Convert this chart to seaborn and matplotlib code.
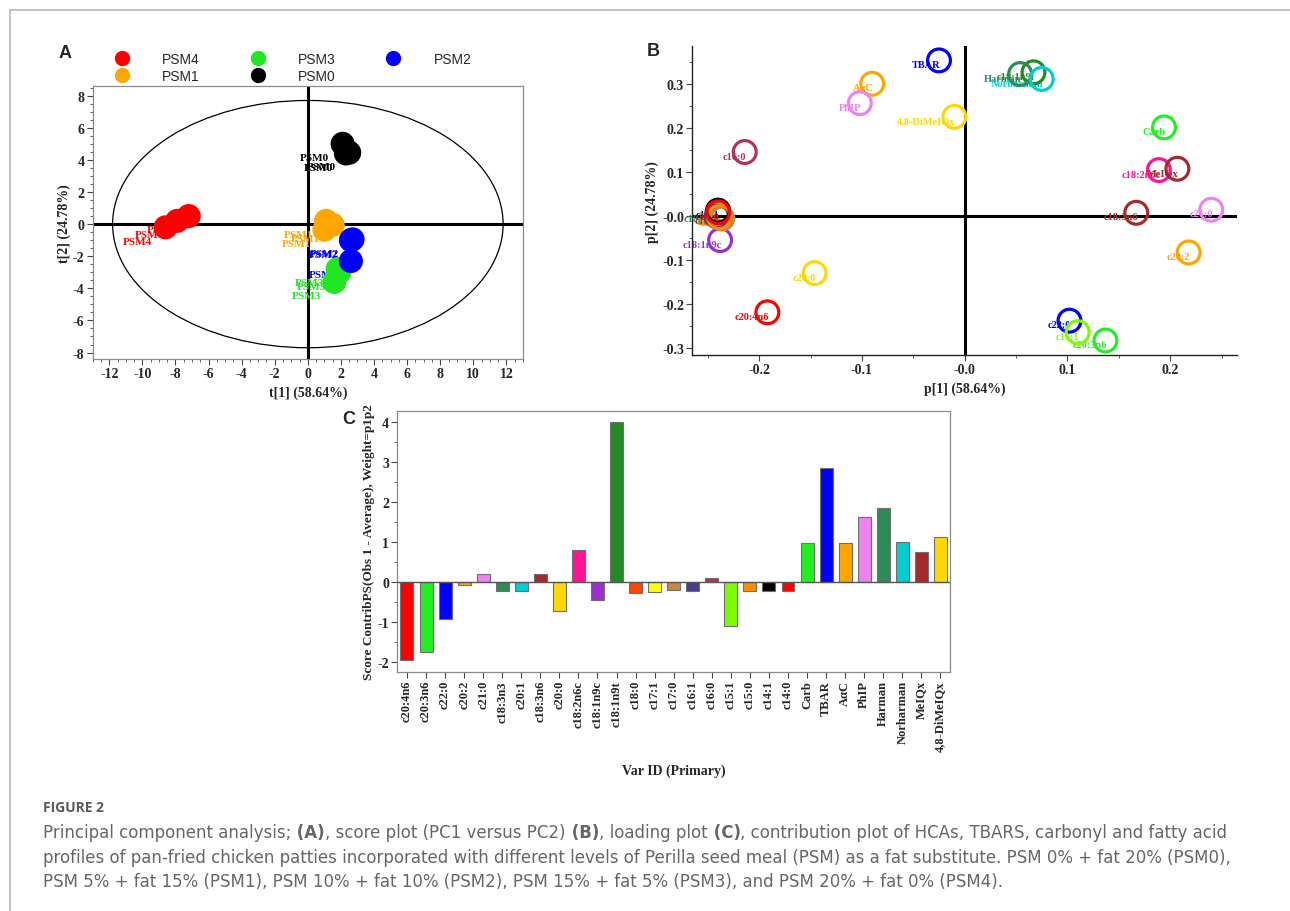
import numpy as np
import pandas as pd
import matplotlib
matplotlib.use("Agg")
import matplotlib.pyplot as plt
import seaborn as sns
from matplotlib.patches import Ellipse
from matplotlib.lines import Line2D
from matplotlib.ticker import AutoMinorLocator

# ---- data: score plot (A) ----
score_group = ["PSM4"] * 3 + ["PSM1"] * 3 + ["PSM3"] * 3 + ["PSM0"] * 3 + ["PSM2"] * 3
score_t1 = [-8.6, -7.9, -7.2, 1.1, 1.5, 1.0, 1.8, 1.9, 1.6, 2.1, 2.3, 2.5, 2.7, 2.6, 2.6]
score_t2 = [-0.2, 0.2, 0.5, 0.2, -0.05, -0.35, -2.8, -3.0, -3.6, 5.0, 4.4, 4.45, -0.95, -1.0, -2.3]
group_order = ["PSM4", "PSM1", "PSM3", "PSM0", "PSM2"]
group_colors = ["#ff0000", "#ffa500", "#22e622", "#000000", "#0000ff"]
ellipse_a = 11.8
ellipse_b = 7.7

# ---- data: loadings (B) and contributions (C) ----
var_names = ["c20:4n6", "c20:3n6", "c22:0", "c20:2", "c21:0", "c18:3n3", "c20:1", "c18:3n6",
             "c20:0", "c18:2n6c", "c18:1n9c", "c18:1n9t", "c18:0", "c17:1", "c17:0", "c16:1",
             "c16:0", "c15:1", "c15:0", "c14:1", "c14:0", "Carb", "TBAR", "AαC", "PhIP",
             "Harman", "Norharman", "MeIQx", "4,8-DiMeIQx"]
contrib = [-1.93, -1.74, -0.92, -0.06, 0.22, -0.21, -0.21, 0.20, -0.71, 0.81, -0.43, 4.00,
           -0.27, -0.23, -0.19, -0.22, 0.11, -1.09, -0.21, -0.21, -0.21, 0.98, 2.86, 0.99,
           1.64, 1.85, 1.00, 0.76, 1.14]
p1 = [-0.192, 0.137, 0.102, 0.218, 0.240, -0.241, -0.240, 0.167, -0.146, 0.189, -0.238, 0.067,
      -0.238, -0.240, -0.236, -0.241, -0.214, 0.110, -0.239, -0.240, -0.240, 0.194, -0.025, -0.090,
      -0.102, 0.054, 0.075, 0.207, -0.010]
p2 = [-0.219, -0.283, -0.238, -0.083, 0.014, 0.004, 0.002, 0.007, -0.130, 0.104, -0.055, 0.326,
      -0.004, 0.000, -0.006, -0.001, 0.145, -0.264, -0.003, 0.012, 0.008, 0.201, 0.353, 0.300,
      0.256, 0.322, 0.311, 0.107, 0.225]
var_colors = ["#ff0000", "#22ee22", "#0000ff", "#ffa500", "#ee82ee", "#2e8b57", "#00ced1", "#a52a2a",
              "#ffd700", "#ff1493", "#9932cc", "#228b22", "#ff4500", "#ffff00", "#cd853f", "#483d8b",
              "#b03060", "#7cfc00", "#ff8c00", "#000000", "#ff0000", "#22ee22", "#0000ff", "#ffa500",
              "#ee82ee", "#2e8b57", "#00ced1", "#a52a2a", "#ffd700"]

t_ticks = list(range(-12, 13, 2))
t2_ticks = list(range(-8, 9, 2))
p1_ticks = [-0.2, -0.1, 0.0, 0.1, 0.2]
p1_labels = ["-0.2", "-0.1", "-0.0", "0.1", "0.2"]
p2_ticks = [-0.3, -0.2, -0.1, 0.0, 0.1, 0.2, 0.3]
p2_labels = ["-0.3", "-0.2", "-0.1", "-0.0", "0.1", "0.2", "0.3"]

caption_line1 = ["Principal component analysis;", " (A)", ", score plot (PC1 versus PC2)", " (B)",
                 ", loading plot", " (C)", ", contribution plot of HCAs, TBARS, carbonyl and fatty acid"]
caption_line2 = ("profiles of pan-fried chicken patties incorporated with different levels of Perilla "
                 "seed meal (PSM) as a fat substitute. PSM 0% + fat 20% (PSM0),")
caption_line3 = ("PSM 5% + fat 15% (PSM1), PSM 10% + fat 10% (PSM2), PSM 15% + fat 5% (PSM3), "
                 "and PSM 20% + fat 0% (PSM4).")

sns.set_theme(style="white")
SERIF = ["Liberation Serif", "DejaVu Serif"]
SANS = ["Liberation Sans", "DejaVu Sans"]
plt.rcParams["font.family"] = SERIF
plt.rcParams["font.weight"] = "bold"
plt.rcParams["axes.labelweight"] = "bold"
plt.rcParams["axes.unicode_minus"] = False
plt.rcParams["xtick.labelsize"] = 10
plt.rcParams["ytick.labelsize"] = 10
SPINE = "#8a8a8a"

fig = plt.figure(figsize=(12.9, 9.12), dpi=100)
fig.patch.set_facecolor("white")


def style_ticks(ax):
    ax.tick_params(axis="both", which="major", direction="out", length=4, width=0.8,
                   color="#444444", pad=2, bottom=True, left=True)
    ax.tick_params(axis="both", which="minor", direction="out", length=2, width=0.6,
                   color="#444444", bottom=True, left=True)


# ---- A: score plot ----
axA = fig.add_axes([0.0719, 0.6053, 0.3335, 0.2993])
score_df = pd.DataFrame({"t1": score_t1, "t2": score_t2, "group": score_group})
axA.axhline(0, color="black", lw=2.2, zorder=1)
axA.axvline(0, color="black", lw=2.2, zorder=1)
axA.add_patch(Ellipse((0, 0), 2 * ellipse_a, 2 * ellipse_b, fill=False, ec="black", lw=0.9, zorder=1))
col_of = dict(zip(group_order, group_colors))
for x, y, g in zip(score_t1, score_t2, score_group):
    axA.annotate(g, (x, y), xytext=(-20, -10), textcoords="offset points", ha="center", va="center",
                 color=col_of[g], fontsize=8, fontweight="bold", zorder=2)
sns.scatterplot(data=score_df, x="t1", y="t2", hue="group", hue_order=group_order,
                palette=group_colors, s=300, linewidth=0, legend=False, ax=axA, zorder=3)
axA.set_xlim(-13, 13)
axA.set_ylim(-8.4, 8.6)
axA.set_xticks(t_ticks)
axA.set_yticks(t2_ticks)
axA.xaxis.set_minor_locator(AutoMinorLocator(4))
axA.yaxis.set_minor_locator(AutoMinorLocator(4))
style_ticks(axA)
for sp in axA.spines.values():
    sp.set_color(SPINE)
    sp.set_linewidth(0.9)
axA.set_xlabel("t[1] (58.64%)", fontsize=10, labelpad=4)
axA.set_ylabel("t[2] (24.78%)", fontsize=10, labelpad=1)

handles = [Line2D([], [], marker="o", ls="", color=c, markersize=10) for c in group_colors]
leg = axA.legend(handles, group_order, ncol=3, loc="upper left", bbox_to_anchor=(108 / 1290, 1 - 53 / 912),
                 bbox_transform=fig.transFigure, frameon=False, borderpad=0, borderaxespad=0,
                 handlelength=2.0, handletextpad=1.9, columnspacing=3.15, labelspacing=0.2,
                 prop={"family": SANS, "size": 10, "weight": "normal"})

# ---- B: loading plot ----
axB = fig.add_axes([0.5367, 0.6096, 0.4222, 0.3385])
load_df = pd.DataFrame({"p1": p1, "p2": p2, "var": var_names})
axB.axhline(0, color="black", lw=2.2, zorder=1)
axB.axvline(0, color="black", lw=2.2, zorder=1)
for x, y, name, c in zip(p1, p2, var_names, var_colors):
    axB.annotate(name, (x, y), xytext=(1, -3), textcoords="offset points", ha="right", va="center",
                 color=c, fontsize=7.5, fontweight="bold", zorder=2)
sns.scatterplot(data=load_df, x="p1", y="p2", hue="var", hue_order=var_names, palette=var_colors,
                s=270, legend=False, ax=axB, zorder=3)
rings = axB.collections[-1]
rings.set_edgecolors(rings.get_facecolors())
rings.set_facecolors("none")
rings.set_linewidths(2.3)
axB.set_xlim(-0.265, 0.265)
axB.set_ylim(-0.316, 0.385)
axB.set_xticks(p1_ticks, p1_labels)
axB.set_yticks(p2_ticks, p2_labels)
axB.xaxis.set_minor_locator(AutoMinorLocator(2))
axB.yaxis.set_minor_locator(AutoMinorLocator(2))
style_ticks(axB)
axB.spines["top"].set_visible(False)
axB.spines["right"].set_visible(False)
for side in ["left", "bottom"]:
    axB.spines[side].set_color("#222222")
    axB.spines[side].set_linewidth(1.0)
axB.set_xlabel("p[1] (58.64%)", fontsize=10, labelpad=4)
axB.set_ylabel("p[2] (24.78%)", fontsize=10, labelpad=2)

# ---- C: contribution plot ----
axC = fig.add_axes([0.3081, 0.2624, 0.4283, 0.2862])
contrib_df = pd.DataFrame({"var": var_names, "contrib": contrib})
sns.barplot(data=contrib_df, x="var", y="contrib", hue="var", order=var_names, hue_order=var_names,
            palette=var_colors, saturation=1, width=0.68, edgecolor="#6f6f6f", linewidth=0.8,
            legend=False, ax=axC, zorder=2)
axC.axhline(0, color="#555555", lw=1, zorder=3)
axC.set_xlim(-0.5, len(var_names) - 0.5)
axC.set_ylim(-2.23, 4.29)
axC.set_yticks([-2, -1, 0, 1, 2, 3, 4])
axC.yaxis.set_minor_locator(AutoMinorLocator(2))
style_ticks(axC)
axC.tick_params(axis="x", labelrotation=90, labelsize=9)
for sp in axC.spines.values():
    sp.set_color(SPINE)
    sp.set_linewidth(0.9)
axC.set_xlabel("Var ID (Primary)", fontsize=10, labelpad=9)
axC.set_ylabel("Score ContribPS(Obs 1 - Average), Weight=p1p2", fontsize=9.5, labelpad=2)

# ---- panel letters ----
for letter, (px, py) in zip(["A", "B", "C"], [(65, 53), (653, 52), (349, 420)]):
    fig.text(px / 1290, 1 - py / 912, letter, ha="center", va="center", fontsize=13,
             fontweight="bold", family=SANS)

# ---- page frame ----
fig.add_artist(Line2D([10 / 1290, 1], [1 - 11 / 912, 1 - 11 / 912], color="#b8b8b8", lw=1.2))
fig.add_artist(Line2D([10 / 1290, 10 / 1290], [0, 1 - 11 / 912], color="#b8b8b8", lw=1.2))

# ---- caption ----
CAP = ["DejaVu Sans"]
cap_color = "#666666"
cap_size = 12
fig.text(43 / 1290, 1 - 808 / 912, "FIGURE 2", ha="left", va="center", fontsize=10,
         fontweight="bold", color="#5a5a5a", family=["Open Sans", "DejaVu Sans"])
cap_ax = fig.add_axes([0, 0, 1, 1])
cap_ax.axis("off")
base1 = 1 - 838 / 912
prev = None
for i, seg in enumerate(caption_line1):
    kw = dict(ha="left", va="baseline", fontsize=cap_size, color=cap_color, family=CAP,
              fontweight="bold" if i % 2 else "normal")
    if prev is None:
        prev = cap_ax.annotate(seg, xy=(43 / 1290, base1), xycoords="figure fraction", **kw)
    else:
        prev = cap_ax.annotate(seg, xy=(1, base1), xycoords=(prev, "figure fraction"), **kw)
fig.text(43 / 1290, 1 - 863 / 912, caption_line2, ha="left", va="baseline", fontsize=cap_size,
         color=cap_color, family=CAP, fontweight="normal")
fig.text(43 / 1290, 1 - 887 / 912, caption_line3, ha="left", va="baseline", fontsize=cap_size,
         color=cap_color, family=CAP, fontweight="normal")

fig.savefig("out.png", dpi=100, facecolor="white")
